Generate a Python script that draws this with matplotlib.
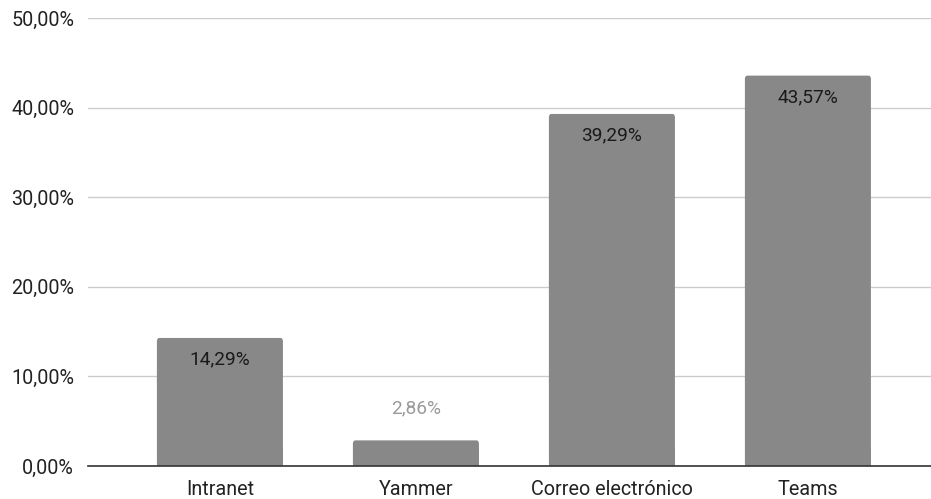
import matplotlib
matplotlib.use('Agg')
import matplotlib.pyplot as plt
from matplotlib.patches import FancyBboxPatch

plt.rcParams['font.family'] = ['Roboto', 'DejaVu Sans']

# Datos
categorias = ['Intranet', 'Yammer', 'Correo electrónico', 'Teams']
valores = [14.29, 2.86, 39.29, 43.57]
etiquetas = ['14,29%', '2,86%', '39,29%', '43,57%']
ticks_y = [0, 10, 20, 30, 40, 50]
ticks_txt = ['0,00%', '10,00%', '20,00%', '30,00%', '40,00%', '50,00%']

fig = plt.figure(figsize=(9.31, 4.99), dpi=100)
ax = fig.add_axes([88 / 931, 33 / 499, 843 / 931, 448 / 499])

ancho = 0.643
x = list(range(len(categorias)))
barras = ax.bar(x, valores, width=ancho, color='#888888', zorder=2)

# esquinas superiores un poco redondeadas
for b in barras:
    b.set_visible(False)
    p = FancyBboxPatch((b.get_x(), b.get_y()), b.get_width(), b.get_height(),
                       boxstyle='round,pad=0,rounding_size=0.012',
                       mutation_aspect=30, facecolor='#888888',
                       edgecolor='none', zorder=2)
    ax.add_patch(p)
    # tapar la parte de abajo redondeada
    ax.bar(b.get_x() + b.get_width() / 2, min(2, b.get_height()), width=b.get_width(),
           color='#888888', zorder=2)

for i, v in enumerate(valores):
    if v > 8:
        ax.text(i, v - 1.4, etiquetas[i], ha='center', va='top', fontsize=13.8, color='#1a1a1a', zorder=3)
    else:
        ax.text(i, v + 2.6, etiquetas[i], ha='center', va='bottom', fontsize=13.8, color='#9a9a9a', zorder=3)

ax.set_xlim(-0.673, 3.628)
ax.set_ylim(0, 50)
ax.set_yticks(ticks_y)
ax.set_yticklabels(ticks_txt, fontsize=14.2, color='#222222')
ax.set_xticks(x)
ax.set_xticklabels(categorias, fontsize=14.2, color='#222222')
ax.tick_params(length=0)
ax.tick_params(axis='x', pad=10)
ax.tick_params(axis='y', pad=10)
ax.grid(axis='y', color='#cccccc', linewidth=1, zorder=0)
for s in ['top', 'right', 'left']:
    ax.spines[s].set_visible(False)
ax.spines['bottom'].set_color('#333333')
ax.spines['bottom'].set_linewidth(1.2)
ax.spines['bottom'].set_zorder(4)

fig.savefig('out.png', dpi=100)
